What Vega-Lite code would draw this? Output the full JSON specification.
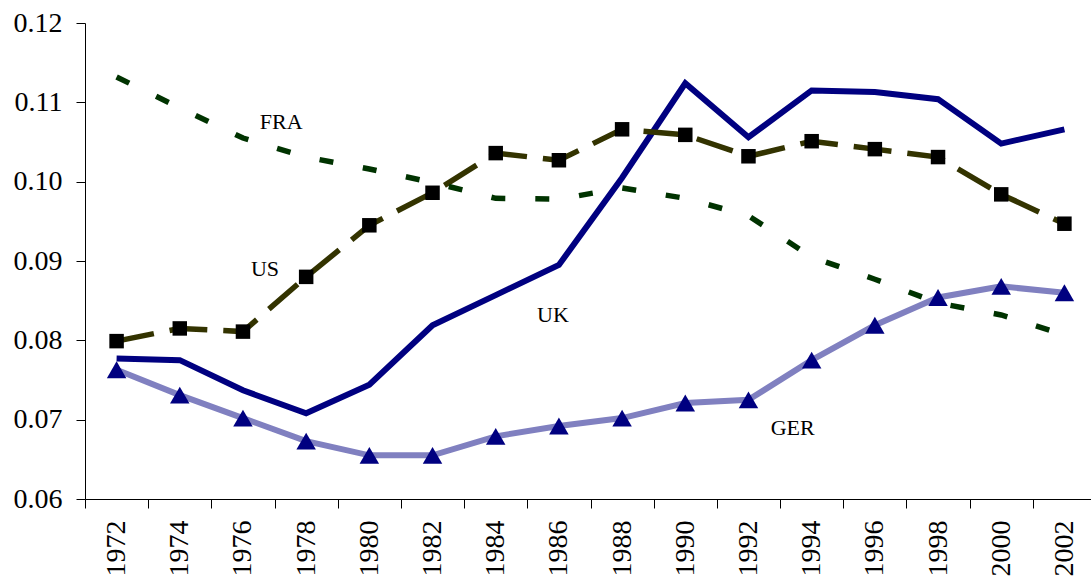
{
  "$schema": "https://vega.github.io/schema/vega-lite/v6.json",
  "autosize": "none",
  "width": 1006,
  "height": 476,
  "padding": {"left": 85, "top": 23, "right": 0, "bottom": 81},
  "background": "white",
  "config": {
    "view": {"stroke": null},
    "font": "Liberation Serif",
    "axis": {"labelFont": "Liberation Serif", "labelColor": "black", "domainColor": "black", "tickColor": "black", "grid": false, "title": null}
  },
  "datasets": {
    "series": [
      {"year": 1972, "country": "UK", "value": 0.0777}, {"year": 1974, "country": "UK", "value": 0.0775}, {"year": 1976, "country": "UK", "value": 0.0737}, {"year": 1978, "country": "UK", "value": 0.0708}, {"year": 1980, "country": "UK", "value": 0.0744}, {"year": 1982, "country": "UK", "value": 0.0819}, {"year": 1984, "country": "UK", "value": 0.0857}, {"year": 1986, "country": "UK", "value": 0.0895}, {"year": 1988, "country": "UK", "value": 0.1005}, {"year": 1990, "country": "UK", "value": 0.1124}, {"year": 1992, "country": "UK", "value": 0.1056}, {"year": 1994, "country": "UK", "value": 0.1115}, {"year": 1996, "country": "UK", "value": 0.1113}, {"year": 1998, "country": "UK", "value": 0.1104}, {"year": 2000, "country": "UK", "value": 0.1048}, {"year": 2002, "country": "UK", "value": 0.1066},
      {"year": 1972, "country": "US", "value": 0.0799}, {"year": 1974, "country": "US", "value": 0.0815}, {"year": 1976, "country": "US", "value": 0.0811}, {"year": 1978, "country": "US", "value": 0.0880}, {"year": 1980, "country": "US", "value": 0.0945}, {"year": 1982, "country": "US", "value": 0.0986}, {"year": 1984, "country": "US", "value": 0.1036}, {"year": 1986, "country": "US", "value": 0.1027}, {"year": 1988, "country": "US", "value": 0.1066}, {"year": 1990, "country": "US", "value": 0.1059}, {"year": 1992, "country": "US", "value": 0.1032}, {"year": 1994, "country": "US", "value": 0.1051}, {"year": 1996, "country": "US", "value": 0.1041}, {"year": 1998, "country": "US", "value": 0.1031}, {"year": 2000, "country": "US", "value": 0.0984}, {"year": 2002, "country": "US", "value": 0.0947},
      {"year": 1972, "country": "FRA", "value": 0.1132}, {"year": 1974, "country": "FRA", "value": 0.1093}, {"year": 1976, "country": "FRA", "value": 0.1055}, {"year": 1978, "country": "FRA", "value": 0.1031}, {"year": 1980, "country": "FRA", "value": 0.1016}, {"year": 1982, "country": "FRA", "value": 0.0999}, {"year": 1984, "country": "FRA", "value": 0.0979}, {"year": 1986, "country": "FRA", "value": 0.0978}, {"year": 1988, "country": "FRA", "value": 0.0992}, {"year": 1990, "country": "FRA", "value": 0.0979}, {"year": 1992, "country": "FRA", "value": 0.0957}, {"year": 1994, "country": "FRA", "value": 0.0905}, {"year": 1996, "country": "FRA", "value": 0.0877}, {"year": 1998, "country": "FRA", "value": 0.0847}, {"year": 2000, "country": "FRA", "value": 0.0832}, {"year": 2002, "country": "FRA", "value": 0.0807},
      {"year": 1972, "country": "GER", "value": 0.0763}, {"year": 1974, "country": "GER", "value": 0.0731}, {"year": 1976, "country": "GER", "value": 0.0702}, {"year": 1978, "country": "GER", "value": 0.0673}, {"year": 1980, "country": "GER", "value": 0.0655}, {"year": 1982, "country": "GER", "value": 0.0655}, {"year": 1984, "country": "GER", "value": 0.0679}, {"year": 1986, "country": "GER", "value": 0.0692}, {"year": 1988, "country": "GER", "value": 0.0702}, {"year": 1990, "country": "GER", "value": 0.0721}, {"year": 1992, "country": "GER", "value": 0.0725}, {"year": 1994, "country": "GER", "value": 0.0775}, {"year": 1996, "country": "GER", "value": 0.0819}, {"year": 1998, "country": "GER", "value": 0.0854}, {"year": 2000, "country": "GER", "value": 0.0868}, {"year": 2002, "country": "GER", "value": 0.0860}
    ],
    "labels": [
      {"label": "FRA", "year": 1978, "value": 0.1075},
      {"label": "US", "year": 1976, "value": 0.0890},
      {"label": "UK", "year": 1986, "value": 0.0832},
      {"label": "GER", "year": 1994, "value": 0.0689}
    ]
  },
  "data": {"name": "series"},
  "encoding": {
    "x": {
      "field": "year", "type": "ordinal", "bandPosition": 0.5,
      "scale": {"type": "band", "paddingInner": 0, "paddingOuter": 0, "range": [0, 1011]},
      "axis": {"labelAngle": -90, "labelFontSize": 28, "tickBand": "extent", "tickSize": 9, "labelPadding": 12, "domainWidth": 1}
    },
    "y": {
      "field": "value", "type": "quantitative",
      "scale": {"domain": [0.06, 0.12], "nice": false, "zero": false},
      "axis": {"values": [0.06, 0.07, 0.08, 0.09, 0.10, 0.11, 0.12], "labelFontSize": 28, "format": ".2f", "tickSize": 9, "labelPadding": 14}
    }
  },
  "layer": [
    {"transform": [{"filter": "datum.country === 'GER'"}], "mark": {"type": "line", "color": "#8080c0", "strokeWidth": 6}},
    {"transform": [{"filter": "datum.country === 'GER'"}], "mark": {"type": "point", "shape": "triangle-up", "filled": true, "color": "#000080", "opacity": 1, "size": 380}},
    {"transform": [{"filter": "datum.country === 'UK'"}], "mark": {"type": "line", "color": "#000080", "strokeWidth": 6}},
    {"transform": [{"filter": "datum.country === 'US'"}], "mark": {"type": "line", "color": "#333300", "strokeWidth": 5.5, "strokeDash": [38, 16]}},
    {"transform": [{"filter": "datum.country === 'US'"}], "mark": {"type": "point", "shape": "square", "filled": true, "color": "black", "opacity": 1, "size": 210}},
    {"transform": [{"filter": "datum.country === 'FRA'"}], "mark": {"type": "line", "color": "#003300", "strokeWidth": 5.5, "strokeDash": [14, 30]}},
    {"data": {"name": "labels"}, "transform": [{"filter": "datum.label === 'FRA'"}], "mark": {"type": "text", "font": "Liberation Serif", "fontSize": 22, "color": "black", "baseline": "middle", "dx": -25}, "encoding": {"text": {"field": "label"}}},
    {"data": {"name": "labels"}, "transform": [{"filter": "datum.label === 'US'"}], "mark": {"type": "text", "font": "Liberation Serif", "fontSize": 22, "color": "black", "baseline": "middle", "dx": 22}, "encoding": {"text": {"field": "label"}}},
    {"data": {"name": "labels"}, "transform": [{"filter": "datum.label === 'UK'"}], "mark": {"type": "text", "font": "Liberation Serif", "fontSize": 22, "color": "black", "baseline": "middle", "dx": -6}, "encoding": {"text": {"field": "label"}}},
    {"data": {"name": "labels"}, "transform": [{"filter": "datum.label === 'GER'"}], "mark": {"type": "text", "font": "Liberation Serif", "fontSize": 22, "color": "black", "baseline": "middle", "dx": -19}, "encoding": {"text": {"field": "label"}}}
  ]
}
